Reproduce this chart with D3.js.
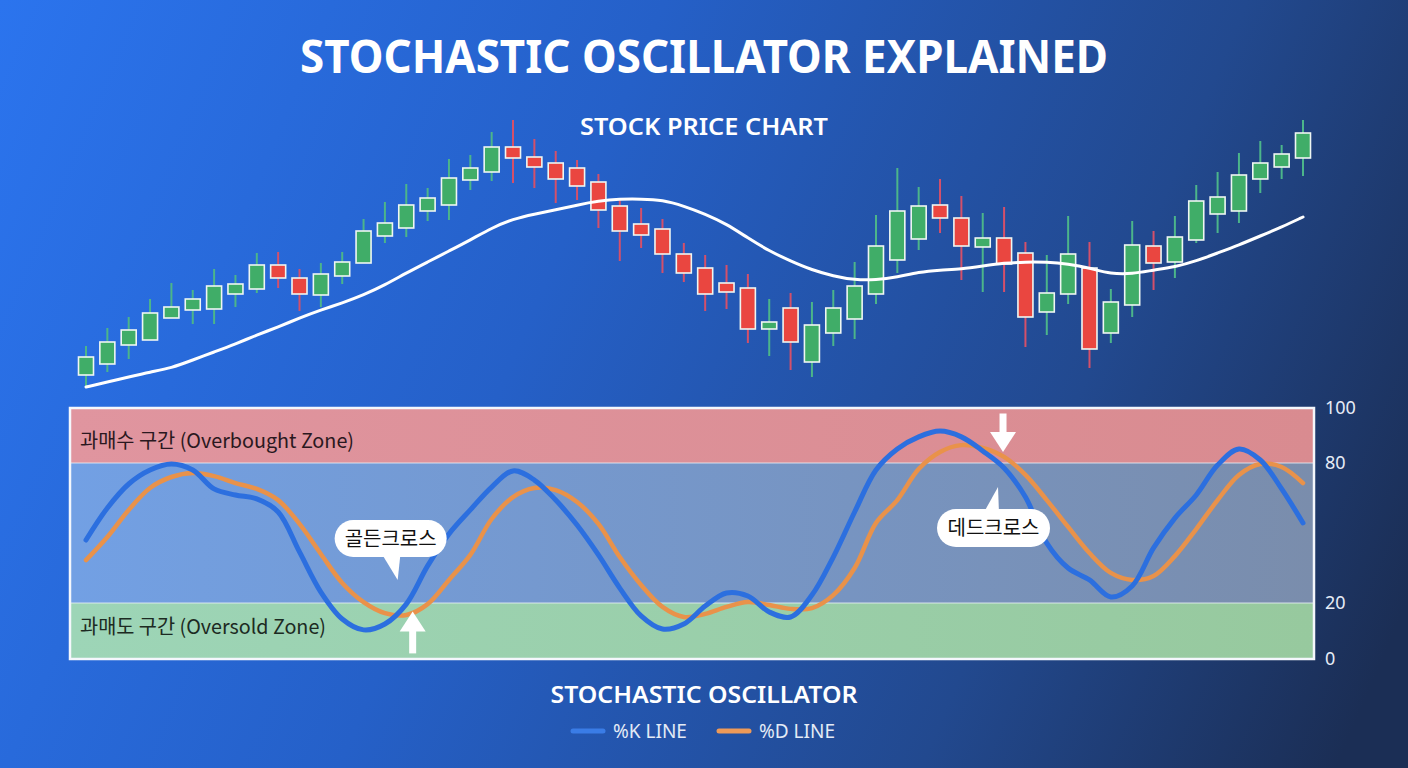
<!DOCTYPE html>
<html>
<head>
<meta charset="utf-8">
<script src="https://cdn.jsdelivr.net/npm/d3@7"></script>
<style>
  html, body { margin: 0; padding: 0; background: #1f4a9a; }
  svg { display: block; }
</style>
</head>
<body>
<div id="chart"></div>
<script>

// candle data (price units)
var opens  = [25,36,55,60,82,90,91,106,111,135,122,105,124,137,164,172,189,195,220,228,253,243,237,232,218,194,176,171,146,132,117,112,71,92,38,67,81,106,140,161,195,182,153,162,147,88,106,132,67,95,154,138,160,186,189,221,233,242];
var highs  = [54,72,83,101,117,110,131,125,147,148,131,137,148,181,198,216,212,241,245,268,280,261,249,240,226,200,192,181,157,145,135,126,101,107,98,110,138,185,232,213,221,204,187,193,158,145,184,158,111,179,169,184,215,228,247,259,255,280];
var lows   = [13,28,41,60,82,76,76,93,107,112,89,93,116,137,157,163,179,180,210,219,217,212,197,200,172,139,152,127,118,89,91,57,44,30,23,54,61,96,127,150,167,120,108,108,53,65,96,32,57,83,110,122,157,167,177,207,221,224];
var closes = [43,58,70,87,93,101,114,116,135,122,106,126,138,169,177,195,202,222,232,253,242,233,221,214,190,169,165,146,127,106,108,71,78,58,75,92,114,154,189,194,182,154,162,136,83,107,146,51,98,155,137,163,199,203,225,237,246,267];

// moving average
var maValues = [13,18,23,28,32,40,48,56,65,73,82,90,97,105,115,127,138,149,160,172,181,186,190,195,199,201,201,200,194,186,176,162,149,139,130,124,120,120,123,128,130,131,134,137,138,138,136,132,126,126,130,133,139,147,155,164,173,183];

// stochastic %K / %D
var kValues = [47,60.7,71,77,79.6,77,68.9,66.3,64.6,59,41.9,24.7,14.3,10.4,12.5,19.6,35.9,49.6,59.9,69.7,76.6,72.7,64.1,53.4,40.6,26.4,15.4,10.7,12.5,18.9,24.3,23,16.8,15,23.4,39.7,59,77,85.1,89.5,91.6,89.5,84.4,77.9,65.4,45.7,35,29.9,22.6,27.3,43.6,56.4,66.3,79.1,85.1,81.1,68.9,54.3];
var dValues = [38.4,48.3,59.9,69.3,74,75.7,74.4,71.4,68.9,64.1,53.9,41,28.6,20.4,16.4,15.7,19.6,29.9,40.6,56,65.4,69.3,68.4,63.3,53.9,39.7,27.7,18.6,15,16.1,18.6,20.4,19.3,17.9,18.2,23.4,35,54.3,64.1,77.4,84,86.5,85.5,82.2,74.9,64.1,52.6,41.4,32.9,29.9,31.6,40.1,51.7,64.1,74.9,79.6,78.3,71.4];

var oscTicks = [0, 20, 80, 100];
var zoneNames = ["과매수 구간 (Overbought Zone)", "과매도 구간 (Oversold Zone)"];
var legendNames = ["%K LINE", "%D LINE"];

var width = 1408, height = 768;

var svg = d3.select("#chart")
  .append("svg")
  .attr("width", width)
  .attr("height", height);

var defs = svg.append("defs");

// background gradient
var bg = defs.append("linearGradient")
  .attr("id", "bg")
  .attr("gradientUnits", "userSpaceOnUse")
  .attr("x1", 0).attr("y1", 0)
  .attr("x2", 1408).attr("y2", 600);
bg.append("stop").attr("offset", "0").attr("stop-color", "#2b74ee");
bg.append("stop").attr("offset", "0.4").attr("stop-color", "#2560c8");
bg.append("stop").attr("offset", "0.75").attr("stop-color", "#22498f");
bg.append("stop").attr("offset", "1").attr("stop-color", "#1b2e55");

function bandGrad(id, c1, c2) {
  var g = defs.append("linearGradient").attr("id", id)
    .attr("x1", 0).attr("y1", 0).attr("x2", 1).attr("y2", 0);
  g.append("stop").attr("offset", "0").attr("stop-color", c1);
  g.append("stop").attr("offset", "1").attr("stop-color", c2);
}
bandGrad("gRed", "#e0959f", "#d98b90");
bandGrad("gMid", "#72a0e4", "#7a8dac");
bandGrad("gGreen", "#9dd5b7", "#97c99e");

svg.append("rect")
  .attr("width", width)
  .attr("height", height)
  .attr("fill", "url(#bg)");

// titles
svg.append("text")
  .attr("x", 704).attr("y", 73)
  .attr("text-anchor", "middle")
  .attr("textLength", 808)
  .attr("lengthAdjust", "spacingAndGlyphs")
  .style("font-family", "'Noto Sans', sans-serif")
  .style("font-weight", "700")
  .style("font-size", "46px")
  .style("fill", "#ffffff")
  .text("STOCHASTIC OSCILLATOR EXPLAINED");

svg.append("text")
  .attr("x", 704).attr("y", 135)
  .attr("text-anchor", "middle")
  .attr("textLength", 248)
  .attr("lengthAdjust", "spacingAndGlyphs")
  .style("font-family", "'Noto Sans', sans-serif")
  .style("font-weight", "600")
  .style("font-size", "24px")
  .style("fill", "#ffffff")
  .text("STOCK PRICE CHART");

// shared x scale
var x = d3.scaleLinear()
  .domain([0, opens.length - 1])
  .range([86, 1303]);

// price scale
var y = d3.scaleLinear()
  .domain([0, 300])
  .range([400, 100]);

var candles = opens.map(function (o, i) {
  return {i: i, o: o, h: highs[i], l: lows[i], c: closes[i]};
});

var green = "#40ad68", red = "#ea4640";

var cg = svg.append("g");

// wicks
cg.selectAll("line.wick")
  .data(candles)
  .enter()
  .append("line")
  .attr("class", "wick")
  .attr("x1", function (d) { return x(d.i); })
  .attr("x2", function (d) { return x(d.i); })
  .attr("y1", function (d) { return y(d.h); })
  .attr("y2", function (d) { return y(d.l); })
  .attr("stroke", function (d) { return d.c >= d.o ? "#4cb58a" : "#d4506a"; })
  .attr("stroke-width", 2);

// bodies
cg.selectAll("rect.body")
  .data(candles)
  .enter()
  .append("rect")
  .attr("class", "body")
  .attr("x", function (d) { return x(d.i) - 7.5; })
  .attr("width", 15)
  .attr("y", function (d) { return y(Math.max(d.o, d.c)); })
  .attr("height", function (d) { return Math.max(2, Math.abs(y(d.o) - y(d.c))); })
  .attr("fill", function (d) { return d.c >= d.o ? green : red; })
  .attr("stroke", "#eef6f2")
  .attr("stroke-width", 1.6);

// moving average line
var maLine = d3.line()
  .x(function (d, i) { return x(i); })
  .y(function (d) { return y(d); })
  .curve(d3.curveBasis);

svg.append("path")
  .datum(maValues)
  .attr("d", maLine)
  .attr("fill", "none")
  .attr("stroke", "#ffffff")
  .attr("stroke-width", 3)
  .attr("stroke-linecap", "round");

// oscillator panel
var panel = {left: 70, right: 1314, top: 408, bottom: 659};
var yo = d3.scaleLinear()
  .domain([0, 20, 80, 100])
  .range([659, 603, 463, 408]);

svg.append("rect")
  .attr("x", panel.left).attr("width", panel.right - panel.left)
  .attr("y", yo(100)).attr("height", yo(80) - yo(100))
  .attr("fill", "url(#gRed)");
svg.append("rect")
  .attr("x", panel.left).attr("width", panel.right - panel.left)
  .attr("y", yo(80)).attr("height", yo(20) - yo(80))
  .attr("fill", "url(#gMid)");
svg.append("rect")
  .attr("x", panel.left).attr("width", panel.right - panel.left)
  .attr("y", yo(20)).attr("height", yo(0) - yo(20))
  .attr("fill", "url(#gGreen)");

[80, 20].forEach(function (v) {
  svg.append("line")
    .attr("x1", panel.left).attr("x2", panel.right)
    .attr("y1", yo(v)).attr("y2", yo(v))
    .attr("stroke", "rgba(235,240,250,0.55)")
    .attr("stroke-width", 1.5);
});

svg.append("rect")
  .attr("x", panel.left).attr("y", panel.top)
  .attr("width", panel.right - panel.left)
  .attr("height", panel.bottom - panel.top)
  .attr("fill", "none")
  .attr("stroke", "#f4f7fc")
  .attr("stroke-width", 2.5);

// zone labels
svg.append("text")
  .attr("x", 80).attr("y", 448)
  .attr("textLength", 274)
  .attr("lengthAdjust", "spacingAndGlyphs")
  .style("font-family", "'Noto Sans CJK KR', 'Noto Sans', sans-serif")
  .style("font-size", "20px")
  .style("fill", "#2a1820")
  .text(zoneNames[0]);
svg.append("text")
  .attr("x", 80).attr("y", 634)
  .attr("textLength", 246)
  .attr("lengthAdjust", "spacingAndGlyphs")
  .style("font-family", "'Noto Sans CJK KR', 'Noto Sans', sans-serif")
  .style("font-size", "20px")
  .style("fill", "#1c2a22")
  .text(zoneNames[1]);

// %K and %D lines
var oscLine = d3.line()
  .x(function (d, i) { return x(i); })
  .y(function (d) { return yo(d); })
  .curve(d3.curveCatmullRom);

svg.append("path")
  .datum(dValues)
  .attr("d", oscLine)
  .attr("fill", "none")
  .attr("stroke", "#e9924a")
  .attr("stroke-width", 4.5)
  .attr("stroke-linecap", "round");

svg.append("path")
  .datum(kValues)
  .attr("d", oscLine)
  .attr("fill", "none")
  .attr("stroke", "#2c6fdf")
  .attr("stroke-width", 5)
  .attr("stroke-linecap", "round");

// right axis
var axis = svg.append("g")
  .attr("transform", "translate(1318,0)")
  .call(d3.axisRight(yo).tickValues(oscTicks).tickSize(0).tickPadding(7));
axis.select(".domain").remove();
axis.selectAll("text")
  .style("font-family", "'Noto Sans', sans-serif")
  .style("font-size", "18px")
  .style("fill", "#e6ecf6");

// cross annotations
var crosses = [
  {label: "골든크로스", idx: 15.3, tip: 17, tail: 2, dir: "up"},
  {label: "데드크로스", idx: 42.95, tip: 84, tail: 98, dir: "down"}
];

crosses.forEach(function (c) {
  var cx = x(c.idx);
  var tipY = yo(c.tip);
  var endY = yo(c.tail);
  var sgn = c.dir === "up" ? 1 : -1;
  // arrow shaft + head
  svg.append("line")
    .attr("x1", cx).attr("x2", cx)
    .attr("y1", endY).attr("y2", tipY + sgn * 16)
    .attr("stroke", "#ffffff")
    .attr("stroke-width", 7);
  svg.append("path")
    .attr("d", "M" + cx + "," + tipY + " L" + (cx - 13) + "," + (tipY + sgn * 20) + " L" + (cx + 13) + "," + (tipY + sgn * 20) + " Z")
    .attr("fill", "#ffffff");
});

// speech bubbles
function bubble(bx, by, bw, bh, tail, label) {
  var g = svg.append("g");
  g.append("path")
    .attr("d", "M" + tail[0][0] + "," + tail[0][1] + " L" + tail[1][0] + "," + tail[1][1] + " L" + tail[2][0] + "," + tail[2][1] + " Z")
    .attr("fill", "#ffffff");
  g.append("rect")
    .attr("x", bx).attr("y", by)
    .attr("width", bw).attr("height", bh)
    .attr("rx", bh / 2)
    .attr("fill", "#ffffff");
  g.append("text")
    .attr("x", bx + bw / 2).attr("y", by + bh / 2 + 7)
    .attr("text-anchor", "middle")
    .style("font-family", "'Noto Sans CJK KR', sans-serif")
    .style("font-size", "20px")
    .style("fill", "#111111")
    .text(label);
}
var gx = x(crosses[0].idx), dx = x(crosses[1].idx);
bubble(gx - 78, 520, 112, 37, [[gx - 32, 552], [gx - 12, 552], [gx - 15, 580]], crosses[0].label);
bubble(dx - 66, 509, 113, 38, [[dx - 20, 514], [dx - 4, 514], [dx - 5, 487]], crosses[1].label);

// bottom title + legend
svg.append("text")
  .attr("x", 704).attr("y", 703)
  .attr("text-anchor", "middle")
  .attr("textLength", 307)
  .attr("lengthAdjust", "spacingAndGlyphs")
  .style("font-family", "'Noto Sans', sans-serif")
  .style("font-weight", "600")
  .style("font-size", "24px")
  .style("fill", "#ffffff")
  .text("STOCHASTIC OSCILLATOR");

var legendColors = ["#3a7ce6", "#ee9a58"];
var legendX = [573, 719];
legendNames.forEach(function (name, i) {
  svg.append("line")
    .attr("x1", legendX[i]).attr("x2", legendX[i] + 30)
    .attr("y1", 731).attr("y2", 731)
    .attr("stroke", legendColors[i])
    .attr("stroke-width", 5)
    .attr("stroke-linecap", "round");
  svg.append("text")
    .attr("x", legendX[i] + 40).attr("y", 738)
    .style("font-family", "'Noto Sans', sans-serif")
    .style("font-size", "19px")
    .style("fill", "#e4ebf6")
    .text(name);
});

</script>
</body>
</html>
